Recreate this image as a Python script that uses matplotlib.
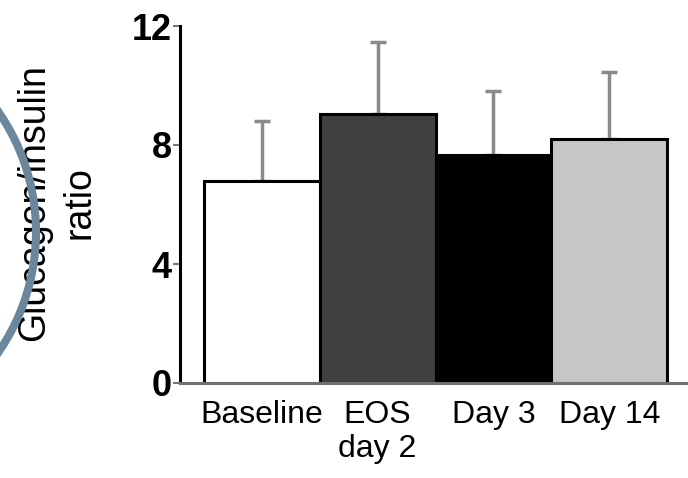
import matplotlib
matplotlib.use("Agg")
import matplotlib.pyplot as plt
from matplotlib.patches import Ellipse

plt.rcParams['font.family'] = ['Liberation Sans', 'DejaVu Sans']

groups = ["Baseline", "EOS\nday 2", "Day 3", "Day 14"]
ratio_mean = [6.8, 9.05, 7.65, 8.2]
ratio_err = [2.0, 2.4, 2.15, 2.25]
colors = ["white", "#404040", "black", "#c6c6c6"]
yticks = [0, 4, 8, 12]

W, H = 688, 478
fig = plt.figure(figsize=(W / 100, H / 100), dpi=100)
ax = fig.add_axes([180 / W, 1 - 383 / H, 1 - 180 / W, (383 - 26) / H])

x = range(len(groups))
ax.bar(x, ratio_mean, width=1.0, color=colors, edgecolor="black", linewidth=2.2, zorder=2)
eb = ax.errorbar(x, ratio_mean, yerr=[[0] * 4, ratio_err], fmt="none",
                 ecolor="#8a8a8a", elinewidth=2.5, capsize=6, capthick=2.5, zorder=1)
for cap in eb[1]:
    cap.set_color("#404040")

ax.set_xlim(-0.707, 3.68)
ax.set_ylim(0, 12)
ax.set_yticks(yticks)
ax.set_yticklabels([str(v) for v in yticks], fontsize=26, fontweight="bold")
ax.set_xticks(list(x))
ax.set_xticklabels(groups, fontsize=23, linespacing=1.2)
ax.tick_params(axis="x", length=0, pad=12)
ax.tick_params(axis="y", length=5, width=1.5, color="#777777", pad=1)

for s in ["top", "right"]:
    ax.spines[s].set_visible(False)
ax.spines["left"].set_linewidth(2.2)
ax.spines["bottom"].set_linewidth(2.2)
ax.spines["bottom"].set_color("#707070")

fig.text(57 / W, 1 - 203 / H, "Glucagon/insulin\nratio", rotation=90,
         ha="center", va="center", fontsize=27, linespacing=1.35,
         multialignment="center")

# decorative arc on the left edge
r = 211
fig.add_artist(Ellipse((-175 / W, 1 - 232 / H), 2 * r / W, 2 * r / H,
                       transform=fig.transFigure, fill=False,
                       edgecolor="#6b879d", linewidth=5.8, zorder=10))

fig.savefig("out.png", dpi=100)
